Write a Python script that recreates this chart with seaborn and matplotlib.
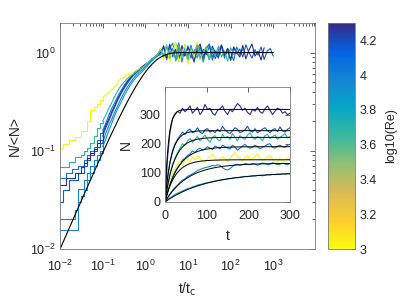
import matplotlib
matplotlib.use('Agg')

import matplotlib.pyplot as plt
import matplotlib.colors as mcolors
import matplotlib.cm as cm
import seaborn as sns
import numpy as np

# ---- data -----------------------------------------------------------------
# colour value of each run, log10(Re)
log_re = {'A': 4.28, 'B': 4.15, 'C': 3.68, 'D': 4.04, 'E': 3.02, 'F': 3.97, 'G': 3.88}

# main panel: N/<N> sampled on t/tc = 10^(-2 + k/14), k = 0, 1, 2, ...
main_k_per_decade = 14
# k = 0..13: early staircase (integer counts)
main_low = {
    'A': [0.045, 0.045, 0.053, 0.053, 0.053, 0.06, 0.06, 0.068, 0.075, 0.085, 0.095, 0.105, 0.12, 0.13],
    'B': [0.03, 0.04, 0.04, 0.05, 0.05, 0.05, 0.06, 0.06, 0.07, 0.08, 0.09, 0.1, 0.11, 0.12],
    'C': [0.068, 0.068, 0.068, 0.076, 0.076, 0.086, 0.086, 0.09, 0.1, 0.106, 0.12, 0.14, 0.17, 0.19],
    'D': [0.053, 0.053, 0.059, 0.059, 0.065, 0.065, 0.07, 0.07, 0.08, 0.09, 0.1, 0.11, 0.13, 0.15],
    'E': [0.106, 0.116, 0.116, 0.128, 0.128, 0.137, 0.137, 0.158, 0.158, 0.2, 0.26, 0.28, 0.3, 0.33],
    'F': [0.0155, 0.0155, 0.0155, 0.0155, 0.0155, 0.0155, 0.041, 0.041, 0.05, 0.06, 0.07, 0.08, 0.09, 0.1],
    'G': [0.02, 0.02, 0.02, 0.02, 0.02, 0.025, 0.03, 0.035, 0.04, 0.05, 0.06, 0.07, 0.08, 0.095],
}
# k = 14..32: growth
main_rise = {
    'A': [0.15, 0.18, 0.21, 0.25, 0.29, 0.34, 0.39, 0.44, 0.5, 0.55, 0.6, 0.64, 0.68, 0.72, 0.76, 0.8, 0.85, 0.9, 0.95],
    'B': [0.14, 0.17, 0.2, 0.24, 0.28, 0.33, 0.38, 0.43, 0.48, 0.53, 0.58, 0.62, 0.66, 0.7, 0.74, 0.79, 0.84, 0.89, 0.94],
    'C': [0.2, 0.23, 0.27, 0.31, 0.36, 0.41, 0.46, 0.5, 0.54, 0.57, 0.6, 0.64, 0.67, 0.7, 0.74, 0.79, 0.85, 0.9, 0.96],
    'D': [0.16, 0.19, 0.23, 0.27, 0.31, 0.36, 0.41, 0.46, 0.51, 0.55, 0.59, 0.63, 0.67, 0.71, 0.75, 0.8, 0.85, 0.9, 0.95],
    'E': [0.35, 0.37, 0.4, 0.42, 0.45, 0.5, 0.54, 0.56, 0.6, 0.59, 0.63, 0.66, 0.68, 0.7, 0.74, 0.8, 0.85, 0.9, 0.95],
    'F': [0.12, 0.15, 0.18, 0.21, 0.25, 0.29, 0.34, 0.39, 0.44, 0.49, 0.54, 0.59, 0.63, 0.67, 0.72, 0.78, 0.84, 0.89, 0.93],
    'G': [0.11, 0.13, 0.16, 0.19, 0.23, 0.27, 0.31, 0.36, 0.41, 0.46, 0.51, 0.56, 0.6, 0.64, 0.69, 0.75, 0.81, 0.87, 0.92],
}
# k = 33..end: fluctuating plateau
main_plateau = {
    'A': [1.0, 1.15, 0.88, 1.2, 0.95, 1.08, 0.82, 1.18, 0.93, 1.12, 1.0, 0.8, 1.1, 1.22, 0.9, 1.05, 0.85, 1.16,
          1.0, 0.88, 1.2, 0.95, 1.1, 0.83, 1.14, 1.0, 0.9, 1.18, 0.86, 1.06, 1.22, 0.92, 1.03, 0.84, 1.12],
    'B': [1.06, 0.9, 1.14, 0.97, 1.1, 0.86, 1.12, 1.0, 0.92, 1.17, 0.88, 1.04, 1.12, 0.85, 1.08, 0.95, 1.15, 1.0,
          0.87, 1.06, 1.18, 0.93, 1.02, 0.86, 1.12, 0.97, 1.09, 0.9, 1.2, 1.0, 0.88, 1.07, 0.94, 1.14, 0.85, 1.04,
          1.1, 0.92],
    'C': [1.05, 0.9, 1.15, 0.95, 1.08, 0.84, 1.18, 0.92, 1.06, 0.86, 1.12, 0.97, 1.2, 0.88, 1.0, 1.14, 0.85, 1.1,
          0.93, 1.17, 0.9, 1.04, 0.82, 1.12, 0.95, 1.06],
    'D': [1.1, 0.92, 1.2, 0.85, 1.05, 1.25, 0.9, 1.0, 1.15, 0.8, 1.08, 0.93, 1.18, 1.0, 0.86, 1.12, 1.22, 0.84,
          1.04, 0.94, 1.16, 0.88, 1.1, 1.0, 0.83, 1.14, 0.95, 1.08],
    'E': [1.1, 0.85, 1.18, 0.8, 1.04, 1.25, 0.82, 0.95, 1.2, 0.76, 1.1, 0.9, 1.28, 0.84, 1.0, 1.15, 0.88],
    'F': [0.98, 1.14, 0.84, 1.22, 0.9, 1.04, 1.26, 0.8, 1.1, 0.93, 1.19, 0.86, 1.0, 1.15, 0.8, 1.08, 1.22, 0.9,
          1.02, 0.95],
    'G': [0.95, 1.18, 0.86, 1.1, 1.25, 0.82, 1.04, 0.92, 1.2, 0.8, 1.08, 1.0, 0.88, 1.16, 0.94, 1.05],
}

# inset: N(t) sampled every 6 time units from 0 to 300
inset_t = np.arange(0, 301, 6)
inset_n = {
    'A': [0, 150, 240, 285, 300, 312, 305, 322, 310, 318, 330, 305, 315, 325, 300, 312, 335, 318, 322, 305,
          298, 315, 320, 330, 312, 300, 318, 310, 325, 338, 330, 315, 322, 308, 300, 318, 312, 325, 310, 305,
          320, 330, 315, 300, 312, 322, 318, 305, 310, 300, 305],
    'B': [0, 85, 140, 175, 200, 215, 228, 240, 232, 245, 250, 238, 242, 255, 240, 235, 248, 252, 240, 245,
          238, 250, 242, 260, 248, 240, 235, 245, 255, 250, 238, 242, 248, 260, 245, 240, 252, 238, 244, 250,
          255, 245, 238, 248, 252, 242, 258, 245, 240, 250, 255],
    'C': [0, 55, 100, 130, 150, 170, 185, 200, 195, 210, 218, 205, 215, 225, 210, 220, 230, 215, 205, 222,
          228, 215, 210, 232, 220, 225, 215, 235, 222, 210, 228, 220, 215, 230, 238, 222, 215, 225, 220, 210,
          228, 232, 218, 225, 230, 215, 222, 228, 235, 220, 225],
    'D': [0, 35, 65, 85, 105, 118, 130, 145, 150, 160, 165, 175, 170, 180, 185, 178, 182, 190, 185, 180,
          192, 188, 183, 195, 190, 185, 182, 195, 188, 178, 185, 192, 198, 190, 185, 188, 195, 190, 183, 188,
          192, 198, 200, 188, 185, 192, 195, 190, 188, 195, 198],
    'E': [0, 40, 75, 100, 115, 130, 140, 125, 145, 150, 138, 155, 145, 160, 150, 142, 135, 148, 158, 165,
          150, 140, 145, 155, 148, 138, 150, 160, 170, 155, 148, 140, 152, 160, 145, 150, 158, 165, 150, 142,
          148, 155, 160, 148, 135, 140, 150, 135, 145, 150, 140],
    'F': [0, 15, 28, 40, 50, 58, 68, 75, 80, 88, 92, 97, 102, 108, 112, 115, 118, 120, 122, 125,
          124, 128, 126, 118, 112, 110, 115, 122, 128, 130, 126, 128, 132, 130, 128, 133, 130, 126, 130, 134,
          132, 128, 130, 135, 132, 128, 130, 134, 130, 128, 132],
    'G': [0, 8, 14, 20, 26, 30, 34, 38, 42, 46, 48, 52, 54, 58, 60, 62, 65, 66, 68, 70,
          72, 74, 75, 77, 78, 80, 80, 82, 84, 83, 85, 86, 88, 87, 88, 90, 89, 91, 92, 90,
          92, 94, 93, 95, 94, 96, 95, 97, 96, 98, 97],
}

# fitted saturation level and growth time of each run (black curves)
fit_ninf = {'A': 318, 'B': 245, 'C': 222, 'D': 190, 'E': 145, 'F': 133, 'G': 102}
fit_tc = {'A': 8, 'B': 15, 'C': 22, 'D': 32, 'E': 25, 'F': 55, 'G': 100}

draw_order = ['G', 'F', 'D', 'B', 'A', 'E', 'C']
cbar_ticks = [3, 3.2, 3.4, 3.6, 3.8, 4, 4.2]
cbar_labels = ['3', '3.2', '3.4', '3.6', '3.8', '4', '4.2']

# ---- style ----------------------------------------------------------------
sns.set_theme(style='white')
plt.rcParams.update({
    'font.family': ['Liberation Sans', 'DejaVu Sans'],
    'font.size': 9,
    'text.color': '#262626',
    'axes.labelcolor': '#262626',
    'xtick.color': '#262626',
    'ytick.color': '#262626',
    'axes.edgecolor': '#7a7a7a',
    'axes.linewidth': 0.6,
    'mathtext.default': 'regular',
})

parula = mcolors.LinearSegmentedColormap.from_list(
    'parula', ['#352a87', '#0363e1', '#1485d4', '#06a7c6', '#38b99e',
               '#92bf73', '#d9ba56', '#fcce2e', '#f9fb0e'])
cmap = parula.reversed()
norm = mcolors.Normalize(vmin=3, vmax=4.3)

W, H = 415, 302
fig = plt.figure(figsize=(W / 100, H / 100), dpi=100)
fig.patch.set_facecolor('white')


def frac(x0, y0, x1, y1):
    return [x0 / W, 1 - y1 / H, (x1 - x0) / W, (y1 - y0) / H]


def box_ticks(ax, xpad=3):
    ax.tick_params(which='both', direction='in', top=True, right=True,
                   width=0.5, colors='#262626', labelsize=9)
    ax.tick_params(axis='x', pad=xpad)
    ax.tick_params(axis='y', pad=3)
    ax.tick_params(which='major', length=3.5)
    ax.tick_params(which='minor', length=2)
    for s in ax.spines.values():
        s.set_color('#7a7a7a')
        s.set_linewidth(0.6)


# ---- main panel -------------------------------------------------------------
ax = fig.add_axes(frac(60, 23, 315, 249))
n_low = len(main_low['A'])
for key in draw_order:
    y = np.array(main_low[key] + main_rise[key] + main_plateau[key])
    x = 10 ** (-2 + np.arange(len(y)) / main_k_per_decade)
    col = cmap(norm(log_re[key]))
    # staircase part, then the continuous part from where it ends
    sns.lineplot(x=x[:n_low + 1], y=y[:n_low + 1], ax=ax, color=col, lw=0.8,
                 drawstyle='steps-post', estimator=None, sort=False, legend=False)
    sns.lineplot(x=x[n_low:], y=y[n_low:], ax=ax, color=col, lw=0.8,
                 estimator=None, sort=False, legend=False)

xfit = np.logspace(-2, 3, 200)
sns.lineplot(x=xfit, y=1 - np.exp(-xfit), ax=ax, color='black', lw=0.8,
             estimator=None, sort=False, legend=False)

ax.set_xscale('log')
ax.set_yscale('log')
ax.set_xlim(1e-2, 9.5e3)
ax.set_ylim(1e-2, 2)
ax.set_xticks([1e-2, 1e-1, 1e0, 1e1, 1e2, 1e3])
ax.set_yticks([1e-2, 1e-1, 1e0])
ax.set_xlabel('t/t$_{\\rm c}$', fontsize=10, labelpad=5)
ax.set_ylabel('N/<N>', fontsize=10, labelpad=6)
box_ticks(ax, xpad=7)

# ---- inset ------------------------------------------------------------------
ins = fig.add_axes(frac(165, 87, 290, 202))
for key in draw_order:
    sns.lineplot(x=inset_t, y=inset_n[key], ax=ins, color=cmap(norm(log_re[key])),
                 lw=0.8, estimator=None, sort=False, legend=False)
tfit = np.linspace(0, 300, 150)
for key in draw_order:
    sns.lineplot(x=tfit, y=fit_ninf[key] * (1 - np.exp(-tfit / fit_tc[key])), ax=ins,
                 color='black', lw=0.7, estimator=None, sort=False, legend=False)
ins.set_xlim(0, 300)
ins.set_ylim(0, 395)
ins.set_xticks([0, 100, 200, 300])
ins.set_yticks([0, 100, 200, 300])
ins.set_xlabel('t', fontsize=10, labelpad=5)
ins.set_ylabel('N', fontsize=10, labelpad=5)
ins.set_facecolor('white')
box_ticks(ins, xpad=6)

# ---- colour bar ---------------------------------------------------------------
cax = fig.add_axes(frac(328, 23, 355, 249))
sm = cm.ScalarMappable(norm=norm, cmap=cmap)
cb = fig.colorbar(sm, cax=cax)
cb.set_ticks(cbar_ticks)
cb.set_ticklabels(cbar_labels)
cb.outline.set_edgecolor('#7a7a7a')
cb.outline.set_linewidth(0.6)
cax.tick_params(direction='in', length=3, width=0.5, labelsize=9, colors='#262626')
cb.set_label('log10(Re)', fontsize=9, labelpad=6)

fig.savefig('out.png', dpi=100)
plt.close(fig)
